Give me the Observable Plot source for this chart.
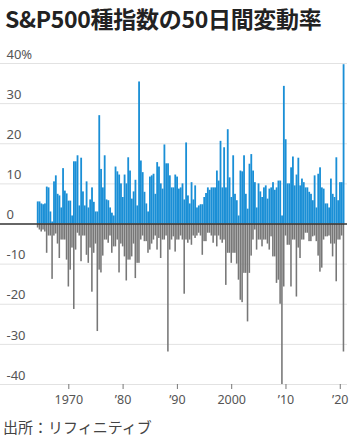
<!DOCTYPE html>
<html>
<head>
<meta charset="utf-8">
<script src="https://cdn.jsdelivr.net/npm/d3@7"></script>
<script src="https://cdn.jsdelivr.net/npm/@observablehq/plot@0.6"></script>
<style>
  html, body { margin: 0; padding: 0; background: #fff; }
  body { width: 360px; height: 443px; overflow: hidden; font-family: "Noto Sans", "Noto Sans CJK JP", sans-serif; }
  #title { height: 40px; line-height: 37px; padding-left: 5px; font-family: "Noto Sans CJK JP", "Noto Sans", sans-serif; font-weight: 700; font-size: 23px; color: #222; white-space: nowrap; letter-spacing: -0.3px; }
  #chart svg { display: block; overflow: visible; }
  #caption { line-height: 30px; padding-left: 3px; font-family: "Noto Sans CJK JP", sans-serif; font-size: 15px; color: #444; }
</style>
</head>
<body>
<div id="title">S&amp;P500種指数の50日間変動率</div>
<div id="chart"></div>
<div id="caption">出所：リフィニティブ</div>
<script>
// 50-day change rate (%), sampled every 1/3 year starting at startYear
const startYear = 1964.2;
const stepYears = 1 / 3;
const riseValues = [
  5.5, 5.5, 5, 4.8, 5, 9.2, 9, 3, 0.5, 10.5,
  12, 7.4, 7, 4, 13.8, 8.2, 7.5, 5.7, 5.7, 2,
  15.5, 15.5, 17, 4.5, 16.4, 8, 4.5, 10.5, 4, 6,
  9, 5.4, 3, 3, 27, 13.6, 9, 17, 6, 5.8,
  4, 2.7, 2, 14.2, 13, 12.2, 10, 6.6, 12.2, 10,
  16.5, 13.2, 6.2, 8, 10.9, 4.5, 35.4, 15.7, 12.8, 7.9,
  5, 3, 11.7, 12, 12.4, 7.4, 15.3, 14.2, 10, 8.7,
  19.7, 15, 15, 12, 9, 9, 12.2, 11.7, 8.7, 9,
  10, 6, 20.2, 7, 5, 10.3, 6, 9.5, 4, 4.5,
  4.8, 4.8, 6.6, 7.6, 9, 8.4, 9, 9, 9, 13.2,
  10.7, 20.6, 9, 19, 9, 23.5, 11.5, 6.6, 17, 7.4,
  5.8, 2, 13.2, 13, 17, 7.4, 3.7, 14.9, 17.3, 13.2,
  10.3, 4, 10, 8, 6.6, 9, 9.5, 6.2, 8.7, 9,
  10.3, 8.4, 9, 10.7, 10.7, 2, 34.3, 21, 10, 10,
  14, 16.7, 9.5, 12.2, 16.4, 9.5, 11.2, 10.3, 9, 9,
  7.9, 7.4, 5.8, 12, 4, 12.4, 14, 9, 8.7, 5,
  5, 4, 11.2, 7.4, 6.6, 16.5, 5.8, 10.3, 10.3, 39.7
];
const fallValues = [
  -1, -1.5, -2, -1.5, -2, -7.3, -3, -3, -13.8, -3,
  -2.5, -5, -8.6, -4, -4, -4, -9, -15.7, -11.5, -6,
  -21.3, -6.5, -2.3, -3, -9.4, -3, -3, -7.8, -9.8, -6,
  -17, -7.3, -5, -26.8, -11.5, -12.2, -8, -4, -4, -4.8,
  -3, -7.3, -5.7, -5.7, -4, -12.2, -5, -5.7, -8.2, -14.2,
  -9, -9, -8.2, -5, -13.6, -9.8, -9.8, -4, -3, -4.4,
  -4.4, -7.3, -6.5, -5, -4, -3, -6.5, -3.6, -8.6, -4,
  -4, -3, -31.9, -6.5, -4, -3.2, -7, -4, -4, -3,
  -4, -17.5, -4, -4.8, -4, -5.3, -3, -3.6, -3, -2.3,
  -3, -7.8, -4.4, -4.4, -2.3, -2.3, -3, -4.8, -3, -5.7,
  -3, -4, -4.8, -4, -15.3, -7.3, -7.3, -9.8, -7.3, -7.3,
  -10, -14, -19, -19.6, -12.3, -12.3, -24.4, -12.3, -8, -4,
  -1.5, -6.5, -4, -4, -5.7, -4, -4, -5, -6.5, -3.2,
  -8.2, -8.2, -14.8, -14, -20, -40, -15.7, -3, -5.3, -5.3,
  -15.7, -4, -4, -18.2, -6, -8.6, -4, -4, -2.3, -2.3,
  -4.4, -4.4, -3.2, -3, -4.4, -8, -12, -11, -4, -3.2,
  -3.2, -3, -5, -8.2, -5, -14.4, -4, -4, -3, -31.9
];
const yTicks = [40, 30, 20, 10, 0, -10, -20, -30, -40];
const xTicks = [1970, 1980, 1990, 2000, 2010, 2020];
const xTickLabels = ["1970", "\u201980", "\u201990", "2000", "\u201910", "\u201920"];

const rows = riseValues.map((v, i) => ({
  t0: startYear + i * stepYears,
  t1: startYear + (i + 1) * stepYears,
  rise: v,
  fall: fallValues[i]
}));

const chart = Plot.plot({
  width: 360,
  height: 372,
  marginLeft: 0,
  marginRight: 13,
  marginTop: 23,
  marginBottom: 28,
  style: { fontFamily: '"Noto Sans", "Noto Sans CJK JP", sans-serif', background: "#fff" },
  x: { type: "linear", domain: [1957.42, 2021.33] },
  y: { domain: [-40, 40] },
  marks: [
    Plot.ruleY(yTicks.filter(d => d !== 0), { stroke: "#e2e2e2", strokeWidth: 1 }),
    Plot.rectY(rows, { x1: "t0", x2: "t1", y1: 0, y2: "rise", fill: "#1a8fd6" }),
    Plot.rectY(rows, { x1: "t0", x2: "t1", y1: 0, y2: "fall", fill: "#777777", insetRight: 0.25 }),
    Plot.ruleY([0], { stroke: "#333", strokeWidth: 1.3 }),
    Plot.axisY(yTicks, {
      anchor: "left", tickSize: 0, tickPadding: 0, textAnchor: "start",
      dx: 6, dy: -9, fontSize: 13, fill: "#555", label: null,
      tickFormat: d => d === 40 ? "40%" : String(d)
    }),
    Plot.axisX(xTicks, {
      anchor: "bottom", tickSize: 5, tickPadding: 6, stroke: "#777", fill: "#555",
      fontSize: 12.5, label: null,
      tickFormat: d => xTickLabels[xTicks.indexOf(d)]
    })
  ]
});
document.getElementById("chart").appendChild(chart);
</script>
</body>
</html>
